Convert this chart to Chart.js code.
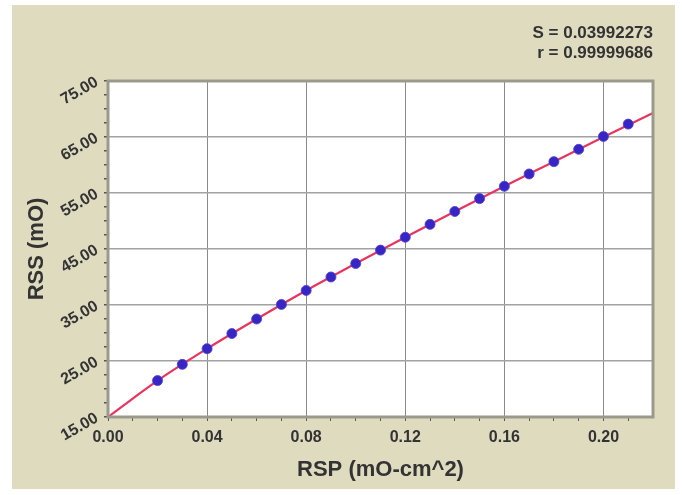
<!DOCTYPE html>
<html>
<head>
<meta charset="utf-8">
<script src="https://cdn.jsdelivr.net/npm/chart.js@4/dist/chart.umd.min.js"></script>
<style>
  html, body { margin: 0; padding: 0; background: #fff; }
  #wrap { width: 682px; height: 495px; }
</style>
</head>
<body>
<div id="wrap"><canvas id="chart" width="682" height="495"></canvas></div>
<script>
// measured points
const rsp = [0.02, 0.03, 0.04, 0.05, 0.06, 0.07, 0.08, 0.09, 0.10, 0.11,
             0.12, 0.13, 0.14, 0.15, 0.16, 0.17, 0.18, 0.19, 0.20, 0.21]
const rss = [21.5, 24.4, 27.2, 29.9, 32.5, 35.1, 37.6, 40.0, 42.4, 44.8,
             47.1, 49.4, 51.7, 54.0, 56.2, 58.4, 60.6, 62.8, 65.1, 67.3]

// fitted curve
const fitRsp = [0, 0.01, 0.02, 0.04, 0.06, 0.08, 0.10, 0.12, 0.14, 0.16, 0.18, 0.20, 0.22]
const fitRss = [15.0, 18.3, 21.5, 27.2, 32.5, 37.6, 42.4, 47.1, 51.7, 56.2, 60.6, 65.0, 69.3]

const xMajorTicks = [0, 0.04, 0.08, 0.12, 0.16, 0.20]
const yMajorTicks = [15, 25, 35, 45, 55, 65, 75]
const xMinorTicks = Array.from({ length: 22 }, (_, i) => i / 100)
const yMinorTicks = Array.from({ length: 25 }, (_, i) => 15 + i * 2.5)

const statLines = ["S = 0.03992273", "r = 0.99999686"]

const FONT = 'Arial, "Liberation Sans", sans-serif'
const TEXT = "#333333"

const isMajor = (list, v) => list.some((m) => Math.abs(m - v) < 1e-6)

const background = {
  id: "background",
  beforeDraw: (chart) => {
    const { ctx, chartArea: a } = chart
    ctx.save()
    ctx.fillStyle = "#ffffff"
    ctx.fillRect(0, 0, chart.width, chart.height)
    ctx.fillStyle = "#dedbbf"
    ctx.fillRect(12, 5, 663, 484)
    ctx.fillStyle = "#ffffff"
    ctx.fillRect(a.left, a.top, a.right - a.left, a.bottom - a.top)
    ctx.restore()
  },
}

const frame = {
  id: "frame",
  afterDraw: (chart) => {
    const { ctx, chartArea: a } = chart
    ctx.save()
    ctx.strokeStyle = "#9b998c"
    ctx.lineWidth = 3
    ctx.strokeRect(a.left, a.top, a.right - a.left, a.bottom - a.top)
    ctx.font = `bold 17px ${FONT}`
    ctx.fillStyle = TEXT
    ctx.textAlign = "right"
    ctx.textBaseline = "middle"
    statLines.forEach((t, i) => ctx.fillText(t, 653, 33 + i * 20))
    ctx.restore()
  },
}

new Chart(document.getElementById("chart"), {
  type: "scatter",
  data: {
    datasets: [
      {
        label: "RSS",
        data: rsp.map((x, i) => ({ x, y: rss[i] })),
        pointRadius: 5,
        pointBackgroundColor: "#3826c4",
        pointBorderColor: "rgba(80,66,210,0.85)",
        pointBorderWidth: 1,
      },
      {
        label: "fit",
        data: fitRsp.map((x, i) => ({ x, y: fitRss[i] })),
        showLine: true,
        cubicInterpolationMode: "monotone",
        pointRadius: 0,
        borderColor: "#e6365e",
        borderWidth: 2.2,
      },
    ],
  },
  options: {
    responsive: false,
    animation: false,
    devicePixelRatio: 1,
    layout: { padding: { top: 81, right: 29, left: 0, bottom: 0 } },
    plugins: { legend: { display: false }, tooltip: { enabled: false } },
    scales: {
      x: {
        type: "linear",
        min: 0,
        max: 0.22,
        afterBuildTicks: (s) => { s.ticks = xMinorTicks.map((value) => ({ value })) },
        afterFit: (s) => { s.height = 78 },
        border: { display: false },
        grid: {
          color: (c) => (c.tick && isMajor(xMajorTicks, c.tick.value) ? "#8a8a8a" : "rgba(0,0,0,0)"),
          lineWidth: 1,
          tickColor: "#555555",
          tickLength: 4,
        },
        ticks: {
          autoSkip: false,
          maxRotation: 0,
          minRotation: 0,
          padding: 7,
          color: TEXT,
          font: { family: FONT, size: 16, weight: "bold" },
          callback: (v) => (isMajor(xMajorTicks, v) ? v.toFixed(2) : ""),
        },
        title: {
          display: true,
          text: "RSP (mO-cm^2)",
          color: TEXT,
          font: { family: FONT, size: 22, weight: "bold" },
          padding: { top: 0, bottom: 12 },
        },
      },
      y: {
        type: "linear",
        min: 15,
        max: 75,
        afterBuildTicks: (s) => { s.ticks = yMinorTicks.map((value) => ({ value })) },
        afterFit: (s) => { s.width = 108 },
        border: { display: false },
        grid: {
          color: (c) => (c.tick && isMajor(yMajorTicks, c.tick.value) ? "#a2a2a2" : "rgba(0,0,0,0)"),
          lineWidth: 1.5,
          tickColor: "#555555",
          tickLength: 4,
        },
        ticks: {
          autoSkip: false,
          minRotation: 30,
          maxRotation: 30,
          padding: 7,
          color: TEXT,
          font: { family: FONT, size: 16, weight: "bold" },
          callback: (v) => (isMajor(yMajorTicks, v) ? v.toFixed(2) : ""),
        },
        title: {
          display: true,
          text: "RSS (mO)",
          color: TEXT,
          font: { family: FONT, size: 22, weight: "bold" },
          padding: { top: 24, bottom: 0 },
        },
      },
    },
  },
  plugins: [background, frame],
})
</script>
</body>
</html>
